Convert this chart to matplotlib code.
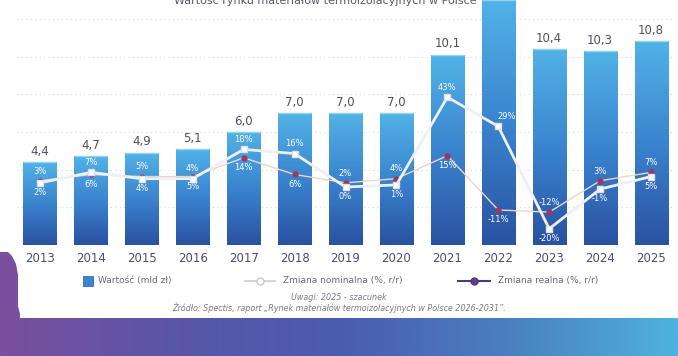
import matplotlib.pyplot as plt
import numpy as np
from matplotlib.colors import LinearSegmentedColormap
from matplotlib.patches import Polygon, Rectangle
from matplotlib.lines import Line2D

years = ["2013", "2014", "2015", "2016", "2017", "2018", "2019",
         "2020", "2021", "2022", "2023", "2024", "2025"]
value = [4.4, 4.7, 4.9, 5.1, 6.0, 7.0, 7.0, 7.0, 10.1, 13.0, 10.4, 10.3, 10.8]
nominal = [2, 7, 4, 4, 18, 16, 0, 1, 43, 29, -20, -1, 5]
real = [3, 6, 5, 5, 14, 6, 2, 4, 15, -11, -12, 3, 7]

# where the % labels sit: +1 above marker, -1 below
nom_pos = [-1, 1, -1, 1, 1, 1, -1, -1, 1, 1, -1, -1, -1]
real_pos = [1, -1, 1, -1, -1, -1, 1, 1, -1, -1, 1, 1, 1]

W, H = 678, 356
YMAX = 13.0
fig = plt.figure(figsize=(W / 100, H / 100), dpi=100)
fig.patch.set_facecolor("white")

# background decoration (bottom band + left purple edge)
bg = fig.add_axes([0, 0, 1, 1], zorder=0)
bg.set_xlim(0, W)
bg.set_ylim(H, 0)
bg.axis("off")
band = LinearSegmentedColormap.from_list(
    "band", ["#7a4f9e", "#5a55a8", "#4a5cae", "#4a7fc0", "#4fb2df"])
grad = np.linspace(0, 1, 256).reshape(1, -1)
bg.imshow(grad, cmap=band, extent=[0, W, H, 318], aspect="auto", zorder=1)
bg.imshow(np.zeros((1, 1)), cmap=LinearSegmentedColormap.from_list("p", ["#7a4f9e", "#7a4f9e"]),
          extent=[0, 20, 320, 252], aspect="auto", zorder=1)
# white card with rounded bottom-left corner covers the purple edge
card = Polygon([[6, 250], [12, 256], [16, 264], [18, 275], [18, 306], [20, 314],
                [28, 317], [W, 317], [W, 250]], closed=True, facecolor="white",
               edgecolor="none", zorder=2)
bg.add_patch(card)
bg.add_patch(Rectangle((0, 0), W, 252, facecolor="white", edgecolor="none", zorder=2))

# main chart
ax = fig.add_axes([17 / W, (H - 245) / H, 657 / W, 245 / H], zorder=2)
ax.patch.set_alpha(0)
x = np.arange(len(years))
bars = ax.bar(x, value, width=0.65, color="#3b7fcc", zorder=2)
cmap = LinearSegmentedColormap.from_list("bar", ["#2a52a2", "#3a84cf", "#52b2e6"])
vgrad = np.linspace(1, 0, 100).reshape(-1, 1)
for b in bars:
    x0, w, h = b.get_x(), b.get_width(), b.get_height()
    im = ax.imshow(vgrad, cmap=cmap, extent=[x0, x0 + w, 0, h], aspect="auto", zorder=3)
    im.set_clip_path(b)
    ax.plot([x0, x0 + w], [h, h], color="#8fd3f5", lw=1, zorder=4, solid_capstyle="butt")
    if h < YMAX:  # the tallest bar runs past the top edge, its label is cropped away
        ax.annotate(f"{h:.1f}".replace(".", ","), (x0 + w / 2, h), xytext=(0, 3),
                    textcoords="offset points", ha="center", va="bottom",
                    fontsize=8.5, color="#4d5060")

ax.set_xlim(-0.45, 12.45)
ax.set_ylim(0, YMAX)
ax.set_yticks([2, 4, 6, 8, 10, 12])
ax.yaxis.grid(True, linestyle=(0, (1, 3)), color="#d8d8dc", lw=0.8)
ax.set_axisbelow(True)
ax.set_xticks(x, years)
for s in ax.spines.values():
    s.set_visible(False)

ax2 = ax.twinx()
ax2.set_ylim(-27.75, 89.5)
ax2.axis("off")
ax.tick_params(axis="y", left=False, right=False, labelleft=False, labelright=False)
ax.tick_params(axis="x", length=0, pad=5, labelsize=8.5, labelcolor="#4a4e74")

ax2.plot(x, real, color="#ead7c4", lw=1, zorder=3)
ax2.plot(x, real, "o", ms=3.5, color="#a0365e", zorder=4)
ax2.plot(x, nominal, color="#eef0f5", lw=2, marker="s", ms=5,
         mfc="white", mec="#e0e0e8", zorder=5)
for xi, v, p in zip(x, nominal, nom_pos):
    dx = 6 if xi == 9 else 0
    ax2.annotate(f"{v}%", (xi, v), xytext=(dx, 7 * p), textcoords="offset points",
                 ha="center", va="center", fontsize=6, color="white", zorder=6)
for xi, v, p in zip(x, real, real_pos):
    ax2.annotate(f"{v}%", (xi, v), xytext=(0, 7 * p), textcoords="offset points",
                 ha="center", va="center", fontsize=6, color="white", zorder=6)

# title, cropped at the very top like in the source picture
fig.text(0.48, 0.998, "Wartość rynku materiałów termoizolacyjnych w Polsce",
         ha="center", va="center", fontsize=8, color="#5a5a66", zorder=1)

# legend (manual, figure pixel positions)
def fx(px):
    return px / W

def fy(py):
    return 1 - py / H

ly = 281
fig.add_artist(Rectangle((fx(83), fy(ly + 5)), 10 / W, 10 / H, transform=fig.transFigure,
                         facecolor="#3a86d0", edgecolor="#2b57a6", lw=0.5))
fig.text(fx(98), fy(ly), "Wartość (mld zł)", fontsize=6.5, color="#6a6a78", va="center")
fig.add_artist(Line2D([fx(245), fx(275)], [fy(ly), fy(ly)], transform=fig.transFigure,
                      color="#d4d4da", lw=1.5))
fig.add_artist(Line2D([fx(260)], [fy(ly)], transform=fig.transFigure, marker="o",
                      ms=5, mfc="white", mec="#c8c8d0", lw=0))
fig.text(fx(283), fy(ly), "Zmiana nominalna (%, r/r)", fontsize=6.5, color="#6a6a78", va="center")
fig.add_artist(Line2D([fx(458), fx(490)], [fy(ly), fy(ly)], transform=fig.transFigure,
                      color="#4a3a80", lw=1.5))
fig.add_artist(Line2D([fx(474)], [fy(ly)], transform=fig.transFigure, marker="o",
                      ms=5, mfc="#6a3a7e", mec="#4a3a80", lw=0))
fig.text(fx(498), fy(ly), "Zmiana realna (%, r/r)", fontsize=6.5, color="#6a6a78", va="center")

fig.text(0.5, fy(297), "Uwagi: 2025 - szacunek", fontsize=5.8, style="italic",
         color="#7a7a88", ha="center", va="center")
fig.text(0.5, fy(308),
         "Źródło: Spectis, raport „Rynek materiałów termoizolacyjnych w Polsce 2026-2031”.",
         fontsize=5.8, style="italic", color="#7a7a88", ha="center", va="center")

fig.savefig("out.png", dpi=100)
